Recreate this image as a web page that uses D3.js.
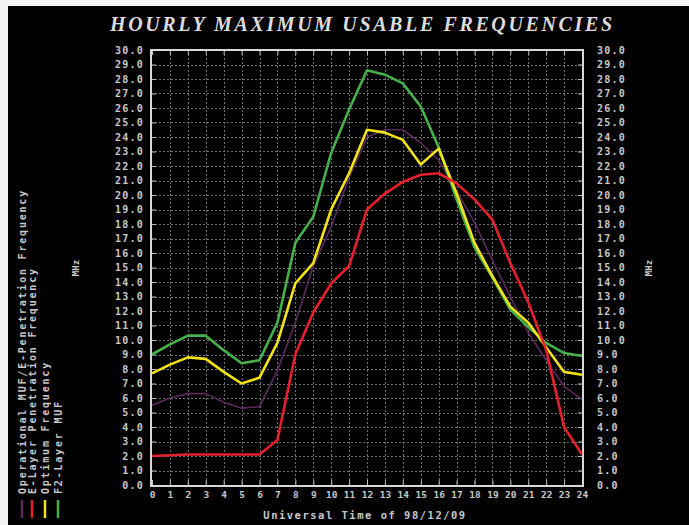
<!DOCTYPE html>
<html>
<head>
<meta charset="utf-8">
<script src="https://cdn.jsdelivr.net/npm/d3@7"></script>
<style>
  html, body { margin: 0; padding: 0; background: #fff; }
  svg { display: block; }
</style>
</head>
<body>
<script>
// ---- data ----
const hours = d3.range(0, 25);
const hourLabels = hours.map(String);
const yTicks = d3.range(0, 31);
const f2LayerMuf = [9.0, 9.7, 10.3, 10.3, 9.3, 8.4, 8.6, 11.2, 16.7, 18.5, 22.9, 25.9, 28.6, 28.3, 27.7, 26.1, 23.3, 19.7, 16.4, 14.3, 12.1, 10.9, 9.8, 9.1, 8.9];
const optimumFreq = [7.7, 8.3, 8.8, 8.7, 7.8, 7.0, 7.4, 9.8, 13.9, 15.3, 19.0, 21.5, 24.5, 24.3, 23.8, 22.1, 23.2, 20.1, 16.7, 14.4, 12.3, 11.2, 9.5, 7.8, 7.6];
const penetrationFreq = [2.0, 2.05, 2.1, 2.1, 2.1, 2.1, 2.1, 3.1, 9.0, 11.9, 13.9, 15.1, 19.0, 20.1, 20.9, 21.4, 21.5, 20.8, 19.7, 18.3, 15.3, 12.6, 9.3, 4.0, 2.1];
const operationalMuf = [5.5, 6.0, 6.3, 6.3, 5.7, 5.3, 5.4, 7.9, 11.2, 15.1, 17.8, 21.2, 24.0, 24.5, 24.5, 23.6, 22.4, 20.3, 18.1, 15.5, 13.0, 10.5, 8.6, 6.8, 5.9];
const seriesNames = ["Operational MUF/E-Penetration Frequency", "E-Layer Penetration Frequency", "Optimum Frequency", "F2-Layer MUF"];
const seriesColors = ["#5b2b5e", "#e5202c", "#f2e21a", "#46b04a"];
const titleText = "HOURLY MAXIMUM USABLE FREQUENCIES";
const xTitle = "Universal Time of 98/12/09";
const unitLabel = "MHz";

// ---- layout ----
const W = 689, H = 525;
const svg = d3.select("body").append("svg").attr("width", W).attr("height", H);
svg.append("rect").attr("width", W).attr("height", H).attr("fill", "#f4f4f4");
svg.append("rect").attr("x", 8).attr("y", 6).attr("width", W - 8).attr("height", H - 6).attr("fill", "#000");

const x = d3.scaleLinear().domain([0, 24]).range([152, 582]);
const y = d3.scaleLinear().domain([0, 30]).range([485, 50]);
const pLeft = 151, pRight = 583, pTop = 50, pBottom = 486;

const monoFont = "'DejaVu Sans Mono', monospace";
const labelColor = "#c8c8c8";

// title
svg.append("text")
  .attr("x", 110).attr("y", 31)
  .attr("textLength", 502).attr("lengthAdjust", "spacing")
  .attr("font-family", "'Liberation Serif', serif")
  .attr("font-weight", "bold").attr("font-style", "italic")
  .attr("font-size", 20).attr("fill", "#dcdcdc")
  .text(titleText);

// grid
const grid = svg.append("g").attr("stroke", "#707070").attr("stroke-width", 1).attr("stroke-dasharray", "2,2");
grid.selectAll("line.v").data(hours.slice(1, -1)).join("line")
  .attr("x1", d => Math.round(x(d)) + 0.5).attr("x2", d => Math.round(x(d)) + 0.5)
  .attr("y1", pTop).attr("y2", pBottom);
grid.selectAll("line.h").data(yTicks.slice(1, -1)).join("line")
  .attr("y1", d => Math.round(y(d)) + 0.5).attr("y2", d => Math.round(y(d)) + 0.5)
  .attr("x1", pLeft).attr("x2", pRight);

// axes
function styleAxis(g) {
  g.select(".domain").remove();
  g.selectAll(".tick line").attr("stroke", "#bbbbbb").attr("stroke-width", 1);
  g.selectAll(".tick text").attr("fill", labelColor)
    .attr("font-family", monoFont).attr("font-weight", "bold")
    .attr("font-size", 10).attr("letter-spacing", 1.2);
}
svg.append("g").attr("transform", `translate(${pLeft},0)`)
  .call(d3.axisLeft(y).tickValues(yTicks).tickFormat(d3.format(".1f")).tickSizeInner(-5).tickSizeOuter(0).tickPadding(7))
  .call(styleAxis);
svg.append("g").attr("transform", `translate(${pRight},0)`)
  .call(d3.axisRight(y).tickValues(yTicks).tickFormat(d3.format(".1f")).tickSizeInner(-5).tickSizeOuter(0).tickPadding(14))
  .call(styleAxis);
svg.append("g").attr("transform", `translate(0,${pBottom})`)
  .call(d3.axisBottom(x).tickValues(hours).tickFormat((d, i) => hourLabels[i]).tickSizeInner(-6).tickSizeOuter(0).tickPadding(5))
  .call(styleAxis)
  .call(g => g.selectAll(".tick text").attr("letter-spacing", 0).attr("font-size", 9.5));
svg.append("g").attr("transform", `translate(0,${pTop})`)
  .call(d3.axisTop(x).tickValues(hours).tickFormat("").tickSizeInner(-5).tickSizeOuter(0))
  .call(styleAxis);

// frame
svg.append("rect").attr("x", pLeft).attr("y", pTop).attr("width", pRight - pLeft).attr("height", pBottom - pTop)
  .attr("fill", "none").attr("stroke", "#d8d8d8").attr("stroke-width", 2);

// lines
const line = d3.line().x((d, i) => x(hours[i])).y(d => y(d));
const seriesData = [operationalMuf, penetrationFreq, optimumFreq, f2LayerMuf];
const widths = [1.6, 2.6, 2.6, 2.6];
const drawOrder = [0, 3, 2, 1];
drawOrder.forEach(k => {
  svg.append("path").datum(seriesData[k]).attr("d", line)
    .attr("fill", "none").attr("stroke", seriesColors[k])
    .attr("stroke-width", widths[k]).attr("stroke-linejoin", "round");
});

// x title
svg.append("text").attr("x", 365).attr("y", 519).attr("text-anchor", "middle")
  .attr("fill", labelColor).attr("font-family", monoFont).attr("font-weight", "bold")
  .attr("font-size", 10.5).attr("letter-spacing", 1.5).text(xTitle);

// MHz labels
[[79, 268], [652, 268]].forEach(([cx, cy]) => {
  svg.append("text").attr("transform", `translate(${cx},${cy}) rotate(-90)`)
    .attr("text-anchor", "middle").attr("fill", labelColor)
    .attr("font-family", monoFont).attr("font-weight", "bold").attr("font-size", 9)
    .text(unitLabel);
});

// legend (rotated)
const legX = [22, 32, 45, 58];
seriesNames.forEach((name, i) => {
  svg.append("text").attr("transform", `translate(${legX[i] + 3.5},494) rotate(-90)`)
    .attr("fill", labelColor).attr("font-family", monoFont).attr("font-weight", "bold")
    .attr("font-size", 10).attr("letter-spacing", 1.8).text(name);
  svg.append("line").attr("x1", legX[i]).attr("x2", legX[i]).attr("y1", 500).attr("y2", 518)
    .attr("stroke", seriesColors[i]).attr("stroke-width", 2.5);
});
</script>
</body>
</html>
